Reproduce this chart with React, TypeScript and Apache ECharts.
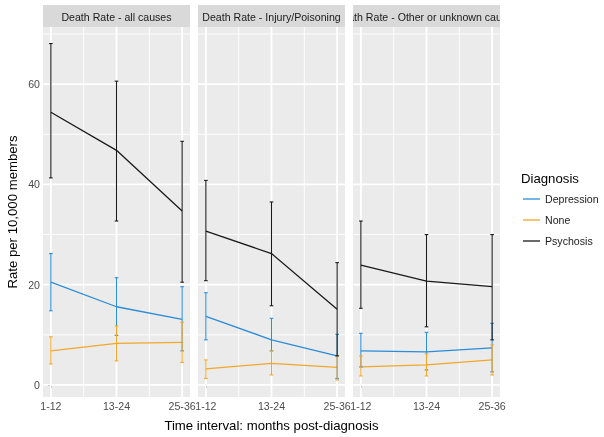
import React, { useEffect, useRef } from "react";
import * as echarts from "echarts";

const categories = ["1-12", "13-24", "25-36"];
const panelTitles = [
  "Death Rate - all causes",
  "Death Rate - Injury/Poisoning",
  "Death Rate - Other or unknown causes",
];
const diagnoses = ["Depression", "None", "Psychosis"];

// rate per panel (rows = panels, columns = time intervals)
const depressionRate = [[20.5, 15.6, 13.1], [13.7, 9.0, 5.8], [6.8, 6.6, 7.4]];
const depressionLow = [[14.8, 9.9, 6.8], [9.0, 6.8, 1.3], [3.6, 3.0, 2.6]];
const depressionHigh = [[26.2, 21.4, 19.6], [18.4, 13.3, 10.1], [10.3, 10.5, 12.3]];

const noneRate = [[6.8, 8.3, 8.5], [3.2, 4.3, 3.5], [3.6, 4.0, 5.0]];
const noneLow = [[4.2, 4.8, 4.5], [1.3, 2.0, 1.0], [1.8, 1.8, 2.0]];
const noneHigh = [[9.6, 11.8, 12.5], [5.0, 6.8, 5.8], [5.8, 6.2, 8.0]];

const psychosisRate = [[54.4, 46.8, 34.7], [30.7, 26.2, 15.1], [23.9, 20.7, 19.6]];
const psychosisLow = [[41.3, 32.7, 20.5], [20.8, 15.8, 5.8], [15.3, 11.6, 9.0]];
const psychosisHigh = [[68.1, 60.6, 48.6], [40.8, 36.5, 24.4], [32.7, 30.0, 30.0]];

const yMajorTicks = [0, 20, 40, 60];
const yMinorTicks = [10, 30, 50, 70];
const xMajorTicks = [0, 1, 2];
const xMinorTicks = [0.5, 1.5];

const COLORS: Record<string, string> = {
  Depression: "#2B8CD8",
  None: "#F2A72B",
  Psychosis: "#1A1A1A",
};
const FONT = '"Liberation Sans", Arial, Helvetica, sans-serif';

const X_MIN = -0.12;
const X_MAX = 2.12;
const Y_MIN = -2.4;
const Y_MAX = 71.4;

const GRID_LEFTS = [43, 198, 353];
const GRID_W = 147;
const GRID_TOP = 27;
const GRID_H = 370;

const seriesData: Record<string, number[][][]> = {
  Depression: [depressionRate, depressionLow, depressionHigh],
  None: [noneRate, noneLow, noneHigh],
  Psychosis: [psychosisRate, psychosisLow, psychosisHigh],
};

export default function App() {
  const ref = useRef<HTMLDivElement>(null);
  useEffect(() => {
    if (!ref.current) return;
    const chart = echarts.init(ref.current, undefined, { renderer: "svg" });

    const grids: any[] = [];
    const xAxes: any[] = [];
    const yAxes: any[] = [];
    const series: any[] = [];
    const graphics: any[] = [];

    panelTitles.forEach((title, p) => {
      grids.push({
        left: GRID_LEFTS[p],
        top: GRID_TOP,
        width: GRID_W,
        height: GRID_H,
        show: true,
        backgroundColor: "#EBEBEB",
        borderWidth: 0,
      });
      xAxes.push({
        type: "value",
        gridIndex: p,
        min: X_MIN,
        max: X_MAX,
        axisLine: { show: false },
        splitLine: { show: false },
        axisTick: {
          show: true,
          length: 3,
          customValues: xMajorTicks,
          lineStyle: { color: "#333333", width: 1 },
        },
        axisLabel: {
          show: true,
          customValues: xMajorTicks,
          formatter: (v: number) => categories[Math.round(v)] ?? "",
          margin: 3,
          color: "#4D4D4D",
          fontSize: 10.6,
          fontFamily: FONT,
        },
      });
      yAxes.push({
        type: "value",
        gridIndex: p,
        min: Y_MIN,
        max: Y_MAX,
        axisLine: { show: false },
        splitLine: { show: false },
        axisTick: {
          show: p === 0,
          length: 3,
          customValues: yMajorTicks,
          lineStyle: { color: "#333333", width: 1 },
        },
        axisLabel: {
          show: p === 0,
          customValues: yMajorTicks,
          margin: 3,
          color: "#4D4D4D",
          fontSize: 10.6,
          fontFamily: FONT,
        },
      });

      // panel gridlines
      const gridData: number[][] = [];
      yMinorTicks.forEach((v) => gridData.push([0, v, 0]));
      xMinorTicks.forEach((v) => gridData.push([1, v, 0]));
      yMajorTicks.forEach((v) => gridData.push([0, v, 1]));
      xMajorTicks.forEach((v) => gridData.push([1, v, 1]));
      series.push({
        type: "custom",
        name: "grid" + p,
        xAxisIndex: p,
        yAxisIndex: p,
        silent: true,
        z: 1,
        encode: { x: 1, y: 1 },
        data: gridData,
        renderItem: (params: any, api: any) => {
          const kind = api.value(0);
          const v = api.value(1);
          const major = api.value(2);
          let a, b;
          if (kind === 0) {
            a = api.coord([X_MIN, v]);
            b = api.coord([X_MAX, v]);
          } else {
            a = api.coord([v, Y_MIN]);
            b = api.coord([v, Y_MAX]);
          }
          return {
            type: "line",
            shape: { x1: a[0], y1: a[1], x2: b[0], y2: b[1] },
            style: { stroke: "#FFFFFF", lineWidth: major ? 1.8 : 0.9 },
          };
        },
      });

      diagnoses.forEach((d) => {
        const [rate, low, high] = seriesData[d];
        const color = COLORS[d];
        series.push({
          type: "line",
          name: d,
          xAxisIndex: p,
          yAxisIndex: p,
          symbol: "none",
          z: 3,
          lineStyle: { color, width: 1.3 },
          itemStyle: { color },
          data: rate[p].map((v, i) => [i, v]),
        });
        series.push({
          type: "custom",
          name: d + " error",
          xAxisIndex: p,
          yAxisIndex: p,
          z: 4,
          encode: { x: 0, y: [1, 2] },
          data: low[p].map((lo, i) => [i, lo, high[p][i]]),
          renderItem: (params: any, api: any) => {
            const x = api.value(0);
            const a = api.coord([x, api.value(1)]);
            const b = api.coord([x, api.value(2)]);
            const w = 1.8;
            const st = { stroke: color, lineWidth: 1.1 };
            return {
              type: "group",
              children: [
                { type: "line", shape: { x1: a[0], y1: a[1], x2: b[0], y2: b[1] }, style: st },
                { type: "line", shape: { x1: a[0] - w, y1: a[1], x2: a[0] + w, y2: a[1] }, style: st },
                { type: "line", shape: { x1: b[0] - w, y1: b[1], x2: b[0] + w, y2: b[1] }, style: st },
              ],
            };
          },
        });
      });
    });

    // facet strips (panel 3 first so that its overflowing title is covered)
    [2, 1, 0].forEach((p, k) => {
      const z = 10 + k * 3;
      graphics.push({
        type: "rect",
        z,
        shape: { x: GRID_LEFTS[p], y: 5, width: GRID_W, height: 22 },
        style: { fill: "#D9D9D9" },
      });
      graphics.push({
        type: "text",
        z: z + 1,
        x: GRID_LEFTS[p] + GRID_W / 2,
        y: 16.5,
        style: {
          text: panelTitles[p],
          align: "center",
          verticalAlign: "middle",
          font: `10.6px ${FONT}`,
          fill: "#1A1A1A",
        },
      });
      if (p === 2) {
        graphics.push({
          type: "rect",
          z: z + 2,
          shape: { x: GRID_LEFTS[1] + GRID_W, y: 4, width: GRID_LEFTS[2] - GRID_LEFTS[1] - GRID_W, height: 24 },
          style: { fill: "#FFFFFF" },
        });
        graphics.push({
          type: "rect",
          z: z + 2,
          shape: { x: GRID_LEFTS[2] + GRID_W, y: 4, width: 120, height: 24 },
          style: { fill: "#FFFFFF" },
        });
      }
    });

    graphics.push({
      type: "text",
      x: (GRID_LEFTS[0] + GRID_LEFTS[2] + GRID_W) / 2,
      y: 425,
      style: {
        text: "Time interval: months post-diagnosis",
        align: "center",
        verticalAlign: "middle",
        font: `13.2px ${FONT}`,
        fill: "#000000",
      },
    });
    graphics.push({
      type: "text",
      x: 12,
      y: GRID_TOP + GRID_H / 2,
      rotation: Math.PI / 2,
      style: {
        text: "Rate per 10,000 members",
        align: "center",
        verticalAlign: "middle",
        font: `13.2px ${FONT}`,
        fill: "#000000",
      },
    });

    // legend (drawn as a ggplot-style key)
    graphics.push({
      type: "text",
      x: 521,
      y: 178,
      style: {
        text: "Diagnosis",
        align: "left",
        verticalAlign: "middle",
        font: `13.2px ${FONT}`,
        fill: "#000000",
      },
    });
    diagnoses.forEach((d, i) => {
      const cy = 199 + i * 21;
      graphics.push({
        type: "line",
        shape: { x1: 523, y1: cy, x2: 540, y2: cy },
        style: { stroke: COLORS[d], lineWidth: 1.3 },
      });
      graphics.push({
        type: "text",
        x: 545,
        y: cy,
        style: {
          text: d,
          align: "left",
          verticalAlign: "middle",
          font: `10.6px ${FONT}`,
          fill: "#1A1A1A",
        },
      });
    });

    chart.setOption({
      animation: false,
      grid: grids,
      xAxis: xAxes,
      yAxis: yAxes,
      series,
      graphic: graphics,
    });
    return () => chart.dispose();
  }, []);

  return (
    <div
      ref={ref}
      style={{ position: "fixed", left: 0, top: 0, width: 604, height: 437 }}
    />
  );
}
